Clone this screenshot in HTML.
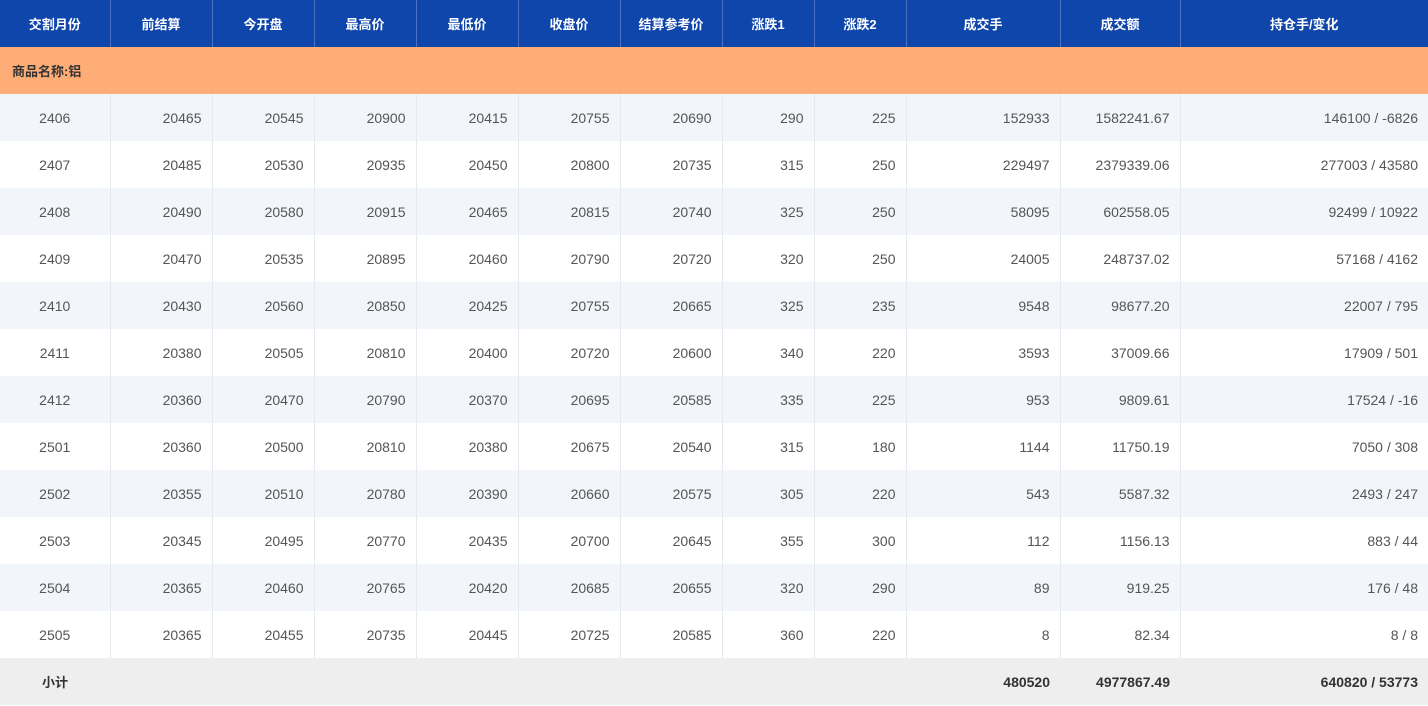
<!DOCTYPE html>
<html><head><meta charset="utf-8"><style>
body{margin:0;background:#fff;width:1428px;height:706px;overflow:hidden;font-family:"Liberation Sans","Noto Sans CJK SC",sans-serif;}
table{border-collapse:collapse;table-layout:fixed;width:1428px;}
td,th{height:47px;padding:0 10px 0 0;box-sizing:border-box;font-size:14px;color:#555;text-align:right;border-left:1px solid #e6eaf0;white-space:nowrap;}
th{background:#0f46ac;color:#fff;font-size:13px;font-weight:bold;text-align:center;padding:0;border-left:1px solid #4a72c0;}
td:first-child,th:first-child{border-left:none;}
td.c{text-align:center;padding:0;}
tr.cat td{background:#ffad76;color:#333;font-weight:bold;font-size:13px;text-align:left;padding-left:12px;}
tr.o td{background:#f2f5fa;}
tr.s td{background:#eeeeef;color:#333;font-weight:bold;border-left:none;}
</style></head><body>
<table>
<colgroup><col style="width:110px"><col style="width:102px"><col style="width:102px"><col style="width:102px"><col style="width:102px"><col style="width:102px"><col style="width:102px"><col style="width:92px"><col style="width:92px"><col style="width:154px"><col style="width:120px"><col style="width:248px"></colgroup>
<tr><th>交割月份</th><th>前结算</th><th>今开盘</th><th>最高价</th><th>最低价</th><th>收盘价</th><th>结算参考价</th><th>涨跌1</th><th>涨跌2</th><th>成交手</th><th>成交额</th><th>持仓手/变化</th></tr>
<tr class="cat"><td colspan="12">商品名称:铝</td></tr>
<tr class="o"><td class="c">2406</td><td>20465</td><td>20545</td><td>20900</td><td>20415</td><td>20755</td><td>20690</td><td>290</td><td>225</td><td>152933</td><td>1582241.67</td><td>146100 / -6826</td></tr>
<tr><td class="c">2407</td><td>20485</td><td>20530</td><td>20935</td><td>20450</td><td>20800</td><td>20735</td><td>315</td><td>250</td><td>229497</td><td>2379339.06</td><td>277003 / 43580</td></tr>
<tr class="o"><td class="c">2408</td><td>20490</td><td>20580</td><td>20915</td><td>20465</td><td>20815</td><td>20740</td><td>325</td><td>250</td><td>58095</td><td>602558.05</td><td>92499 / 10922</td></tr>
<tr><td class="c">2409</td><td>20470</td><td>20535</td><td>20895</td><td>20460</td><td>20790</td><td>20720</td><td>320</td><td>250</td><td>24005</td><td>248737.02</td><td>57168 / 4162</td></tr>
<tr class="o"><td class="c">2410</td><td>20430</td><td>20560</td><td>20850</td><td>20425</td><td>20755</td><td>20665</td><td>325</td><td>235</td><td>9548</td><td>98677.20</td><td>22007 / 795</td></tr>
<tr><td class="c">2411</td><td>20380</td><td>20505</td><td>20810</td><td>20400</td><td>20720</td><td>20600</td><td>340</td><td>220</td><td>3593</td><td>37009.66</td><td>17909 / 501</td></tr>
<tr class="o"><td class="c">2412</td><td>20360</td><td>20470</td><td>20790</td><td>20370</td><td>20695</td><td>20585</td><td>335</td><td>225</td><td>953</td><td>9809.61</td><td>17524 / -16</td></tr>
<tr><td class="c">2501</td><td>20360</td><td>20500</td><td>20810</td><td>20380</td><td>20675</td><td>20540</td><td>315</td><td>180</td><td>1144</td><td>11750.19</td><td>7050 / 308</td></tr>
<tr class="o"><td class="c">2502</td><td>20355</td><td>20510</td><td>20780</td><td>20390</td><td>20660</td><td>20575</td><td>305</td><td>220</td><td>543</td><td>5587.32</td><td>2493 / 247</td></tr>
<tr><td class="c">2503</td><td>20345</td><td>20495</td><td>20770</td><td>20435</td><td>20700</td><td>20645</td><td>355</td><td>300</td><td>112</td><td>1156.13</td><td>883 / 44</td></tr>
<tr class="o"><td class="c">2504</td><td>20365</td><td>20460</td><td>20765</td><td>20420</td><td>20685</td><td>20655</td><td>320</td><td>290</td><td>89</td><td>919.25</td><td>176 / 48</td></tr>
<tr><td class="c">2505</td><td>20365</td><td>20455</td><td>20735</td><td>20445</td><td>20725</td><td>20585</td><td>360</td><td>220</td><td>8</td><td>82.34</td><td>8 / 8</td></tr>
<tr class="s"><td class="c" style="font-size:13px">小计</td><td></td><td></td><td></td><td></td><td></td><td></td><td></td><td></td><td>480520</td><td>4977867.49</td><td>640820 / 53773</td></tr>
</table>
</body></html>
